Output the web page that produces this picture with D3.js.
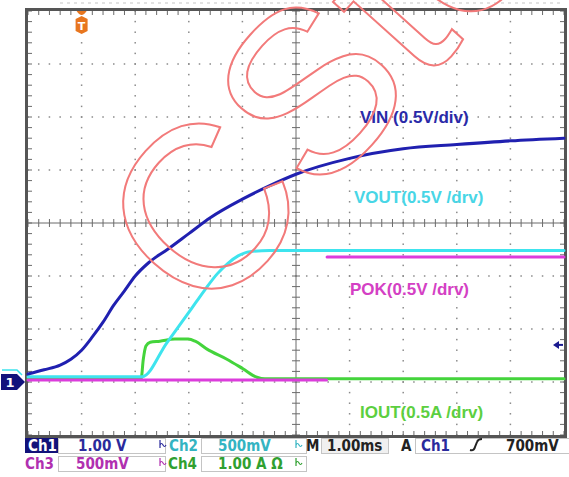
<!DOCTYPE html>
<html>
<head>
<meta charset="utf-8">
<script src="https://cdn.jsdelivr.net/npm/d3@7"></script>
<style>
  body { margin: 0; background: #fff; }
  svg { display: block; }
</style>
</head>
<body>
<svg id="scope"></svg>
<script>
// ---- data (time in ms, trigger at t = 0) ----
const vinTime  = [-1, -0.7, -0.4, -0.2, 0, 0.2, 0.4, 0.6, 0.8, 1.0, 1.25, 1.6, 2.0, 2.4, 3.0, 3.5, 4.0, 5.0, 6.0, 7.0, 8.0, 9.0];
const vinVolts = [0.15, 0.23, 0.32, 0.43, 0.60, 0.85, 1.13, 1.45, 1.72, 2.00, 2.25, 2.50, 2.80, 3.10, 3.45, 3.70, 3.92, 4.22, 4.40, 4.48, 4.55, 4.60];

const voutTime  = [-1, 1.13, 1.59, 2.02, 2.30, 2.53, 2.73, 2.92, 3.14, 3.51, 9.0];
const voutVolts = [0.05, 0.05, 0.37, 0.67, 0.87, 1.02, 1.12, 1.19, 1.23, 1.24, 1.24];

// POK jumps in one sample: null breaks the trace so no edge is drawn
const pokTime  = [-1, 4.57, 4.575, 4.58, 9.0];
const pokVolts = [0.02, 0.02, null, 1.18, 1.18];

const ioutTime = [-1, 1.11, 1.15, 1.20, 1.28, 1.46, 1.74, 1.99, 2.12, 2.34, 2.71, 3.01, 3.27, 3.42, 9.0];
const ioutAmps = [0.06, 0.06, 0.42, 0.68, 0.75, 0.77, 0.81, 0.81, 0.77, 0.62, 0.43, 0.25, 0.09, 0.06, 0.06];

// channel scales (units per division) and trace labels
const chScale  = [1.0, 0.5, 0.5, 1.0];
const traceLabels = ['VIN (0.5V/div)', 'VOUT(0.5V /drv)', 'POK(0.5V /drv)', 'IOUT(0.5A /drv)'];
const readoutRow1 = ['Ch1', '1.00 V', 'Ch2', '500mV', 'M', '1.00ms', 'A', 'Ch1', '700mV'];
const readoutRow2 = ['Ch3', '500mV', 'Ch4', '1.00 A \u03A9'];
const triggerLevel = 0.7; // volts on Ch1
const groundDiv = -3;     // all channels sit 3 divisions below centre

// ---- drawing ----
const width = 569, height = 477;
const svg = d3.select('#scope').attr('width', width).attr('height', height);

const plot = {left: 28, right: 564, top: 11, bottom: 435};
const x = d3.scaleLinear().domain([-1, 9]).range([plot.left, plot.right]);
const yDiv = d3.scaleLinear().domain([-4, 4]).range([plot.bottom, plot.top]);

const blue = '#2020b0', cyan = '#3ee4ee', magenta = '#dc3cdc', green = '#44d43c';

// faint menu remnant above the screen
svg.append('line').attr('x1', 60).attr('x2', 560).attr('y1', 3).attr('y2', 3)
  .attr('stroke', '#e2e2e2').attr('stroke-width', 2).attr('stroke-dasharray', '3,4');

const grid = svg.append('g').attr('fill', '#8a8a8a');

// dotted graticule
[-3, -2, -1, 1, 2, 3].forEach(function (d) {
  d3.range(-1, 9.001, 0.2).forEach(function (t) {
    grid.append('rect').attr('x', x(t) - 0.75).attr('y', yDiv(d) - 0.75).attr('width', 1.5).attr('height', 1.5);
  });
});
[0, 1, 2, 3, 5, 6, 7, 8].forEach(function (t) {
  d3.range(-4, 4.001, 0.2).forEach(function (d) {
    grid.append('rect').attr('x', x(t) - 0.75).attr('y', yDiv(d) - 0.75).attr('width', 1.5).attr('height', 1.5);
  });
});

// centre cross with ticks
const axes = svg.append('g').attr('stroke', '#6a6a6a').attr('stroke-width', 1);
axes.append('line').attr('x1', plot.left).attr('x2', plot.right).attr('y1', yDiv(0)).attr('y2', yDiv(0));
axes.append('line').attr('x1', x(4)).attr('x2', x(4)).attr('y1', plot.top).attr('y2', plot.bottom);
d3.range(-1, 9.001, 0.2).forEach(function (t) {
  axes.append('line').attr('x1', x(t)).attr('x2', x(t)).attr('y1', yDiv(0) - 4).attr('y2', yDiv(0) + 4);
  axes.append('line').attr('x1', x(t)).attr('x2', x(t)).attr('y1', plot.top).attr('y2', plot.top + 4);
  axes.append('line').attr('x1', x(t)).attr('x2', x(t)).attr('y1', plot.bottom).attr('y2', plot.bottom - 4);
});
d3.range(-4, 4.001, 0.2).forEach(function (d) {
  axes.append('line').attr('x1', x(4) - 4).attr('x2', x(4) + 4).attr('y1', yDiv(d)).attr('y2', yDiv(d));
  axes.append('line').attr('x1', plot.left).attr('x2', plot.left + 4).attr('y1', yDiv(d)).attr('y2', yDiv(d));
  axes.append('line').attr('x1', plot.right).attr('x2', plot.right - 4).attr('y1', yDiv(d)).attr('y2', yDiv(d));
});

// screen frame
svg.append('rect')
  .attr('x', plot.left - 1.5).attr('y', plot.top - 1.5)
  .attr('width', plot.right - plot.left + 3).attr('height', plot.bottom - plot.top + 3)
  .attr('fill', 'none').attr('stroke', '#555').attr('stroke-width', 3);

// traces
function channelY(ch) {
  return d3.scaleLinear().domain([0, chScale[ch]]).range([yDiv(groundDiv), yDiv(groundDiv + 1)]);
}
function drawTrace(times, values, ch, color, curve) {
  const y = channelY(ch);
  const line = d3.line()
    .defined(d => d != null)
    .x((d, i) => x(times[i])).y(d => y(d)).curve(curve);
  svg.append('path').attr('d', line(values))
    .attr('fill', 'none').attr('stroke', color).attr('stroke-width', 3)
    .attr('stroke-linejoin', 'round').attr('stroke-linecap', 'round');
}
drawTrace(ioutTime, ioutAmps, 3, green, d3.curveMonotoneX);
drawTrace(voutTime, voutVolts, 1, cyan, d3.curveMonotoneX);
drawTrace(pokTime, pokVolts, 2, magenta, d3.curveLinear);
drawTrace(vinTime, vinVolts, 0, blue, d3.curveMonotoneX);

// trace labels
const labelPos = [[360, 123, '#2a2aa8'], [354, 203, '#48d6e6'], [350, 295, '#d440c4'], [360, 418, '#5ccf40']];
traceLabels.forEach(function (txt, i) {
  svg.append('text').attr('x', labelPos[i][0]).attr('y', labelPos[i][1])
    .attr('fill', labelPos[i][2])
    .style('font-family', 'Liberation Sans, Arial, sans-serif')
    .style('font-size', '17px').style('font-weight', 'bold')
    .text(txt);
});

// trigger position marker (orange T)
const trig = svg.append('g').attr('fill', '#e8761e');
trig.append('path').attr('d', `M${x(0) - 5},${plot.top} Q${x(0)},${plot.top + 8} ${x(0) + 5},${plot.top} Z`);
trig.append('path').attr('d', `M${x(0) - 6},19 L${x(0)},16 L${x(0) + 6},19 L${x(0) + 6},31 L${x(0)},34 L${x(0) - 6},31 Z`);
svg.append('text').attr('x', x(0)).attr('y', 30).attr('text-anchor', 'middle')
  .attr('fill', '#fff').style('font-family', 'DejaVu Sans, sans-serif')
  .style('font-size', '11px').style('font-weight', 'bold').text('T');

// Ch1 ground marker
const gy = yDiv(groundDiv);
svg.append('path').attr('d', `M2,${gy - 12} L17,${gy - 12} L22,${gy - 7}`)
  .attr('fill', 'none').attr('stroke', cyan).attr('stroke-width', 1.5);
svg.append('path').attr('d', `M1,${gy - 8} L17,${gy - 8} L25,${gy} L17,${gy + 8} L1,${gy + 8} Z`).attr('fill', '#12127c');
svg.append('text').attr('x', 10).attr('y', gy + 5).attr('text-anchor', 'middle').attr('fill', '#fff')
  .style('font-family', 'DejaVu Sans, sans-serif').style('font-size', '13px').style('font-weight', 'bold').text('1');

// trigger level arrow (right edge)
const ty = channelY(0)(triggerLevel);
svg.append('path').attr('d', `M${plot.right - 11},${ty} L${plot.right - 5},${ty - 4} L${plot.right - 5},${ty + 4} Z`).attr('fill', '#1a1a90');
svg.append('line').attr('x1', plot.right - 6).attr('x2', plot.right - 1).attr('y1', ty).attr('y2', ty)
  .attr('stroke', '#1a1a90').attr('stroke-width', 2);

// watermark
svg.append('text').attr('transform', 'translate(206,326) rotate(-48)')
  .attr('fill', 'none').attr('stroke', '#f27a7a').attr('stroke-width', 2)
  .style('font-family', 'Liberation Sans, Arial, sans-serif').style('font-size', '232px')
  .text('CSte');

// readout panel
const rd = svg.append('g').style('font-family', 'DejaVu Sans Condensed, DejaVu Sans, sans-serif')
  .style('font-size', '15px').style('font-weight', 'bold');
function box(x0, x1, y0, fill) {
  rd.append('rect').attr('x', x0 + 0.5).attr('y', y0 + 0.5).attr('width', x1 - x0 - 1).attr('height', 15)
    .attr('fill', fill || '#fff').attr('stroke', '#c4c4c4');
}
function label(tx, ty2, txt, color) {
  rd.append('text').attr('x', tx).attr('y', ty2).attr('fill', color).text(txt);
}
function bw(bx, by, color) {
  rd.append('path').attr('d', `M${bx},${by - 11} L${bx},${by - 3} M${bx},${by - 6} q1.5,-3 3,0 q1.5,3 3,0`)
    .attr('fill', 'none').attr('stroke', color).attr('stroke-width', 1.2);
}
const r1 = 451, r2 = 469;
const c1 = '#2a2a9c', c2 = '#34b4c2', c3 = '#b030b0', c4 = '#30a030';

rd.append('rect').attr('x', 25).attr('y', 438).attr('width', 33).attr('height', 15).attr('fill', '#12127a');
label(28, r1, readoutRow1[0], '#fff');
box(58, 166, 438);
label(78, r1, readoutRow1[1], c1);
bw(160, r1, c1);
label(169, r1, readoutRow1[2], c2);
box(201, 307, 438);
label(218, r1, readoutRow1[3], c2);
bw(296, r1, c2);
label(306, r1, readoutRow1[4], '#222');
box(321, 389, 438, '#f0f0f0');
label(327, r1, readoutRow1[5], '#222');
label(401, r1, readoutRow1[6], '#222');
box(415, 570, 438);
label(421, r1, readoutRow1[7], c1);
rd.append('path').attr('d', 'M470,450 Q474,451 475,447 L477,442 Q478,439 482,439')
  .attr('fill', 'none').attr('stroke', '#222').attr('stroke-width', 2);
label(506, r1, readoutRow1[8], '#222');

label(25, r2, readoutRow2[0], c3);
box(58, 166, 456);
label(76, r2, readoutRow2[1], c3);
bw(160, r2, c3);
label(168, r2, readoutRow2[2], c4);
box(201, 307, 456);
label(218, r2, readoutRow2[3], c4);
bw(296, r2, c4);
</script>
</body>
</html>
